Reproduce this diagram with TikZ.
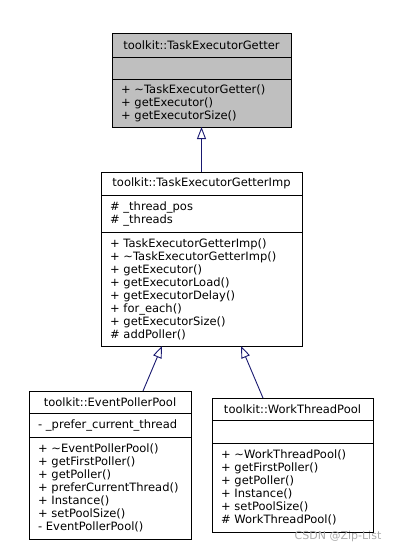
\documentclass[tikz,border=0pt]{standalone}
\usepackage{fontspec}
\setmainfont{DejaVu Sans}
\usetikzlibrary{positioning,arrows.meta}

\definecolor{edgeblue}{RGB}{25,25,112}
\definecolor{basegray}{RGB}{191,191,191}

\tikzstyle{cls} = [rectangle, draw=black, line width=0.9pt, fill=white,
inner xsep=9pt, inner ysep=0pt, outer sep=0pt, font=\fontsize{11.5}{13}\selectfont]
\tikzstyle{clsname} = [cls, align=center]
\tikzstyle{members} = [cls, align=left]
\tikzstyle{baseclass} = [fill=basegray]
\tikzstyle{inherit} = [draw=edgeblue, line width=0.9pt,
-{Triangle[open, length=12pt, width=9pt]}]

\begin{document}
\begin{tikzpicture}
    \useasboundingbox (0,0) rectangle (402pt,-552pt);

    % base class
    \node (getname) [clsname, baseclass, text width=161pt, minimum height=24pt, anchor=north] at (201.5pt,-33pt) {toolkit::TaskExecutorGetter};
    \node (getattr) [members, baseclass, text width=161pt, minimum height=22pt, below=0pt of getname] {};
    \node (getmeth) [members, baseclass, text width=161pt, minimum height=48pt, below=0pt of getattr] {+ \textasciitilde TaskExecutorGetter()\\+ getExecutor()\\+ getExecutorSize()};

    % implementation
    \node (impname) [clsname, text width=183pt, minimum height=23pt, anchor=north] at (201.5pt,-172pt) {toolkit::TaskExecutorGetterImp};
    \node (impattr) [members, text width=183pt, minimum height=37pt, below=0pt of impname] {\# \_thread\_pos\\\# \_threads};
    \node (impmeth) [members, text width=183pt, minimum height=114pt, below=0pt of impattr] {+ TaskExecutorGetterImp()\\+ \textasciitilde TaskExecutorGetterImp()\\+ getExecutor()\\+ getExecutorLoad()\\+ getExecutorDelay()\\+ for\_each()\\+ getExecutorSize()\\\# addPoller()};

    % pools
    \node (eppname) [clsname, text width=144pt, minimum height=22pt, anchor=north] at (110pt,-391pt) {toolkit::EventPollerPool};
    \node (eppattr) [members, text width=144pt, minimum height=24pt, below=0pt of eppname] {- \_prefer\_current\_thread};
    \node (eppmeth) [members, text width=144pt, minimum height=102pt, below=0pt of eppattr] {+ \textasciitilde EventPollerPool()\\+ getFirstPoller()\\+ getPoller()\\+ preferCurrentThread()\\+ Instance()\\+ setPoolSize()\\- EventPollerPool()};

    \node (wtpname) [clsname, text width=143pt, minimum height=22pt, anchor=north] at (292.5pt,-398pt) {toolkit::WorkThreadPool};
    \node (wtpattr) [members, text width=143pt, minimum height=23pt, below=0pt of wtpname] {};
    \node (wtpmeth) [members, text width=143pt, minimum height=89pt, below=0pt of wtpattr] {+ \textasciitilde WorkThreadPool()\\+ getFirstPoller()\\+ getPoller()\\+ Instance()\\+ setPoolSize()\\\# WorkThreadPool()};

    \node (mark) [text=gray!65, font=\fontsize{11}{13}\selectfont] at (338pt,-536pt) {CSDN @Zip-List};

    \draw [inherit] (impname) -- (getmeth);
    \draw [inherit] ([xshift=33pt]eppname.north) -- ([xshift=-39.5pt]impmeth.south);
    \draw [inherit] ([xshift=-29.5pt]wtpname.north) -- ([xshift=39.5pt]impmeth.south);
\end{tikzpicture}
\end{document}
